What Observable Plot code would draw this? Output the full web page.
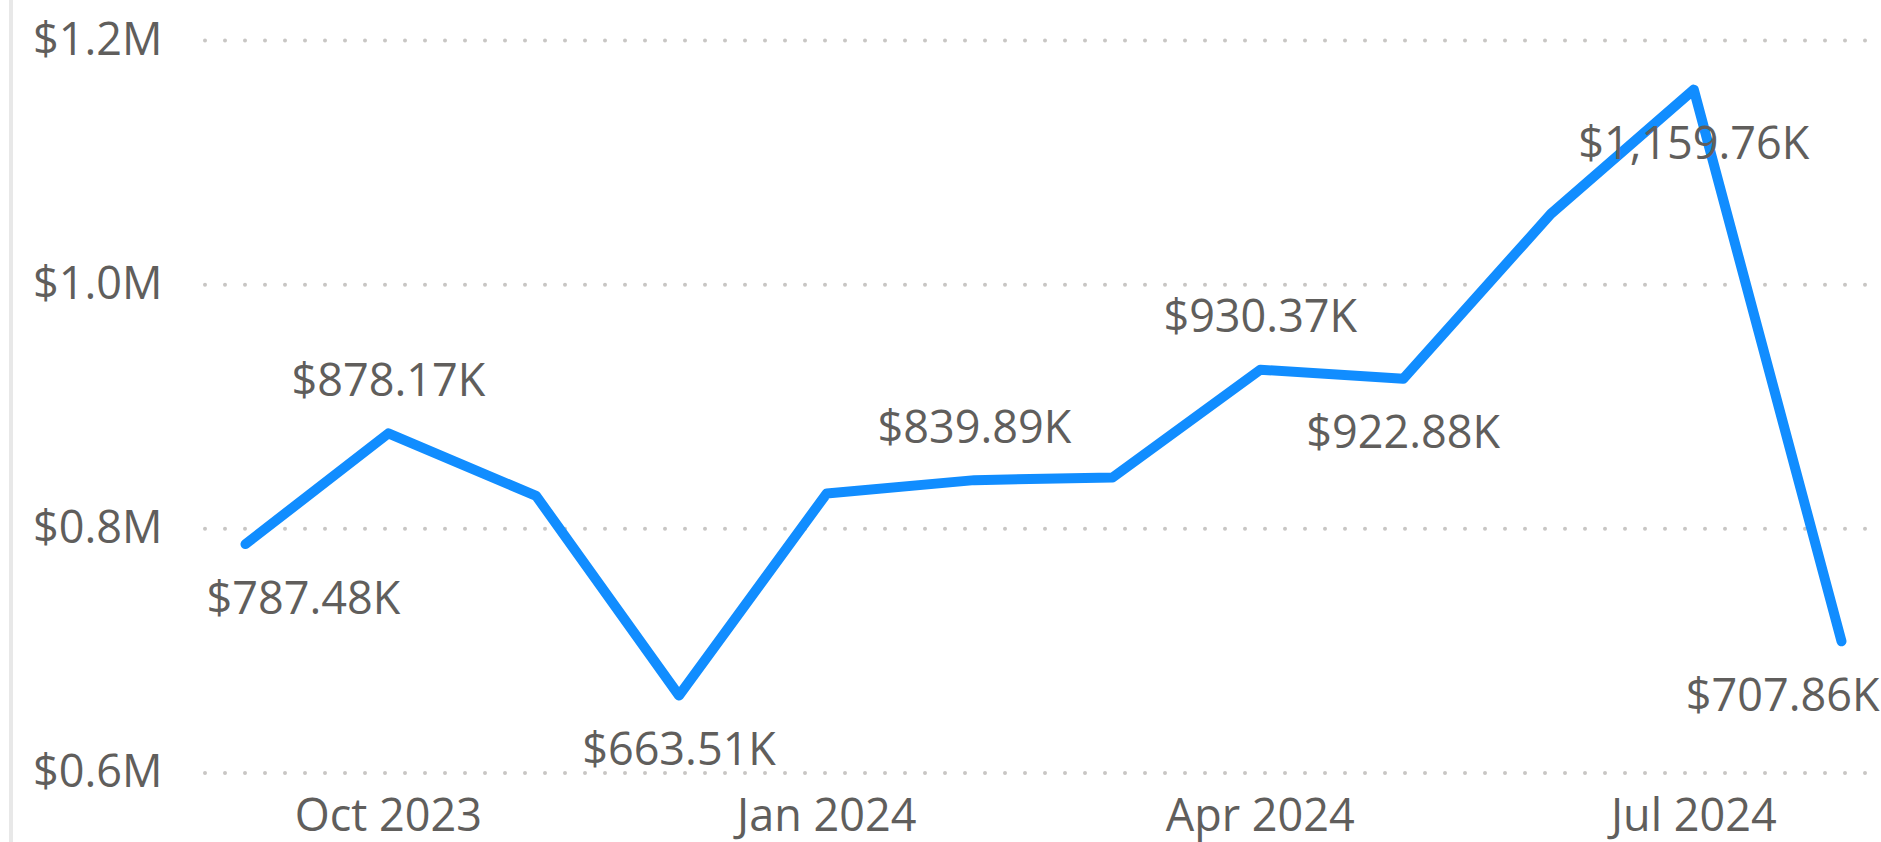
<!DOCTYPE html>
<html>
<head>
<meta charset="utf-8">
<script src="https://cdn.jsdelivr.net/npm/d3@7"></script>
<script src="https://cdn.jsdelivr.net/npm/@observablehq/plot@0.6"></script>
<style>
  html, body { margin: 0; padding: 0; background: #fff; overflow: hidden; }
  #wrap { position: relative; width: 1881px; height: 842px; }
  #edge { position: absolute; left: 9px; top: 0; width: 4px; height: 842px; background: #E8E8E8; }
</style>
</head>
<body>
<div id="wrap"><div id="edge"></div></div>
<script>
const months = ["2023-09-01","2023-10-01","2023-11-01","2023-12-01","2024-01-01","2024-02-01",
                "2024-03-01","2024-04-01","2024-05-01","2024-06-01","2024-07-01","2024-08-01"];
const sales = [787480, 878170, 827000, 663510, 829000, 839890,
               842000, 930370, 922880, 1058000, 1159760, 707860];
// which points carry a data label, and on which side
const labelled = ["2023-09-01","2023-10-01","2023-12-01","2024-02-01","2024-04-01","2024-05-01","2024-07-01","2024-08-01"];
const labelSide = ["below","above","below","above","above","below","below","below"];
const yTicks = [600000, 800000, 1000000, 1200000];
const xTicks = ["2023-10-01","2024-01-01","2024-04-01","2024-07-01"];

const data = months.map((m, i) => ({date: new Date(m + "T00:00:00Z"), value: sales[i]}));
const labels = labelled.map((m, i) => ({
  date: new Date(m + "T00:00:00Z"),
  value: sales[months.indexOf(m)],
  side: labelSide[i],
  first: months.indexOf(m) === 0,
  last: months.indexOf(m) === months.length - 1
}));

const fmtK = v => "$" + (v / 1000).toLocaleString("en-US", {minimumFractionDigits: 2, maximumFractionDigits: 2}) + "K";
const fmtM = v => "$" + (v / 1e6).toFixed(1) + "M";

const font = "'Segoe UI', 'Open Sans', sans-serif";
const textColor = "#605E5C";
const fs = 45;

function labelMark(filter, anchor, dx, dy) {
  return Plot.text(labels.filter(filter), {
    x: "date", y: "value", text: d => fmtK(d.value),
    textAnchor: anchor, dx, dy, fontSize: fs, fill: textColor, fontFamily: font
  });
}

const chart = Plot.plot({
  width: 1881,
  height: 842,
  marginLeft: 205,
  marginRight: 15,
  marginTop: 40,
  marginBottom: 69.5,
  insetLeft: 40,
  insetRight: 25,
  style: {fontFamily: font, fontSize: fs + "px", color: textColor, background: "transparent", overflow: "visible"},
  x: {type: "utc", domain: [data[0].date, data[data.length - 1].date]},
  y: {domain: [600000, 1200000]},
  marks: [
    Plot.ruleY(yTicks, {stroke: "#C8C6C4", strokeWidth: 4, strokeDasharray: "0,20", strokeLinecap: "round"}),
    Plot.axisY(yTicks, {tickSize: 0, tickPadding: 43, tickFormat: fmtM, label: null, fill: textColor, fontSize: fs}),
    Plot.axisX(xTicks.map(d => new Date(d + "T00:00:00Z")), {tickSize: 0, tickPadding: 26, tickFormat: d3.utcFormat("%b %Y"), label: null, fill: textColor, fontSize: fs}),
    Plot.line(data, {x: "date", y: "value", stroke: "#118DFF", strokeWidth: 10, strokeLinecap: "round", strokeLinejoin: "round"}),
    labelMark(d => !d.first && !d.last && d.side === "above", "middle", 0, -52),
    labelMark(d => !d.first && !d.last && d.side === "below", "middle", 0, 55),
    labelMark(d => d.first && d.side === "below", "start", -39, 55),
    labelMark(d => d.first && d.side === "above", "start", -39, -52),
    labelMark(d => d.last && d.side === "below", "end", 38, 55),
    labelMark(d => d.last && d.side === "above", "end", 38, -52)
  ]
});
chart.style.position = "absolute";
chart.style.left = "0";
chart.style.top = "0";
document.getElementById("wrap").appendChild(chart);
</script>
</body>
</html>
